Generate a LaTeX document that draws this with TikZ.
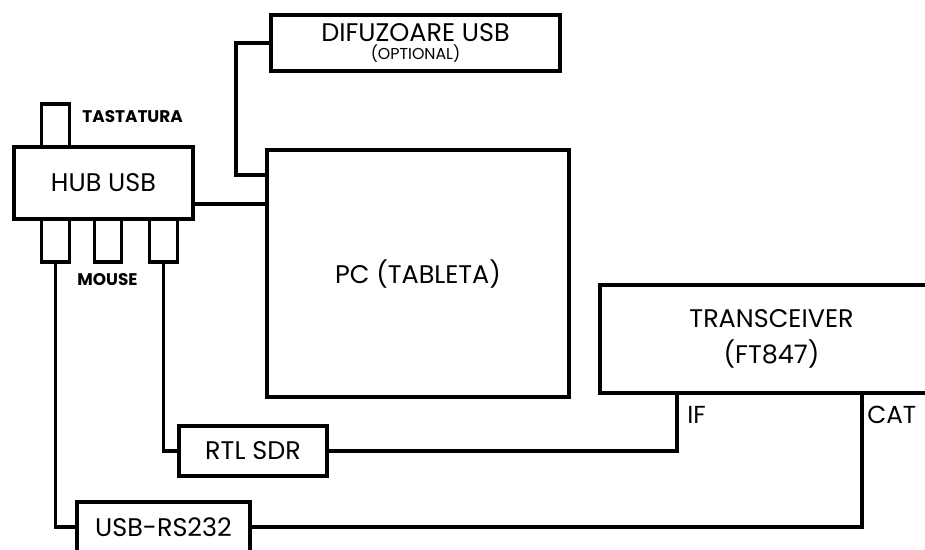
\documentclass[tikz,border=0pt]{standalone}
\usepackage{fontspec}
\setmainfont{Poppins}
\usetikzlibrary{positioning}

\begin{document}
\begin{tikzpicture}[x=0.02cm, y=-0.02cm,
          blk/.style={rectangle, draw, line width=2.5pt, align=center,
                      inner sep=0pt, font=\fontsize{14.5}{20.5}\selectfont},
          port/.style={rectangle, draw, line width=1.8pt, inner sep=0pt,
                       minimum width=0.55cm, minimum height=0.86cm},
          wire/.style={draw, line width=1.9pt},
          lbl/.style={inner sep=0pt, font=\fontsize{14}{17}\selectfont},
          tiny/.style={inner sep=0pt, font=\bfseries\fontsize{9.6}{11}\selectfont}
        ]
        \clip (0,0) rectangle (925,550);

        % main blocks
        \node[blk, minimum width=5.78cm, minimum height=1.12cm]
              (spk) at (415.5, 43)
              {\raisebox{-3pt}{DIFUZOARE USB}\\[-7pt]{\fontsize{9}{11}\selectfont (OPTIONAL)}};
        \node[blk, minimum width=6.04cm, minimum height=4.94cm]
              (pc) at (418, 273.5) {PC (TABLETA)};
        \node[blk, minimum width=3.58cm, minimum height=1.44cm]
              (hub) at (103.5, 183) {HUB USB};
        \node[blk, minimum width=6.86cm, minimum height=2.16cm]
              (trx) at (771.5, 339) {TRANSCEIVER\\(FT847)};
        \node[blk, minimum width=2.96cm, minimum height=1.0cm]
              (rtl) at (253, 451) {RTL SDR};
        \node[blk, minimum width=3.46cm, minimum height=1.0cm]
              (rs) at (163.5, 527) {USB-RS232};

        % hub ports
        \node[port] (kbd) at (55.5, 125.5) {};
        \node[port] (p1)  at (55.5, 240.5) {};
        \node[port] (p2)  at (108, 240.5) {};
        \node[port] (p3)  at (163.5, 240.5) {};

        \node[tiny, anchor=west] (tast) at (82, 117) {TASTATURA};
        \node[tiny] (mouse) at (107.5, 280) {MOUSE};

        % transceiver outputs
        \coordinate (if)  at (677, 393);
        \coordinate (cat) at (862, 393);
        \node[lbl, anchor=west] (iflbl)  at (687, 415) {IF};
        \node[lbl, anchor=west] (catlbl) at (867, 415) {CAT};

        % wiring
        \coordinate (hubout) at (193, 204);
        \draw[wire] (hubout) -- (hubout -| pc.west);
        \coordinate (spkin) at (236, 175);
        \draw[wire] (spk.west) -| (spkin) -- (spkin -| pc.west);
        \draw[wire] (p3.south) |- (rtl.west);
        \draw[wire] (p1.south) |- (rs.west);
        \draw[wire] (rtl.east) -| (if);
        \draw[wire] (rs.east) -| (cat);
      \end{tikzpicture}
\end{document}
